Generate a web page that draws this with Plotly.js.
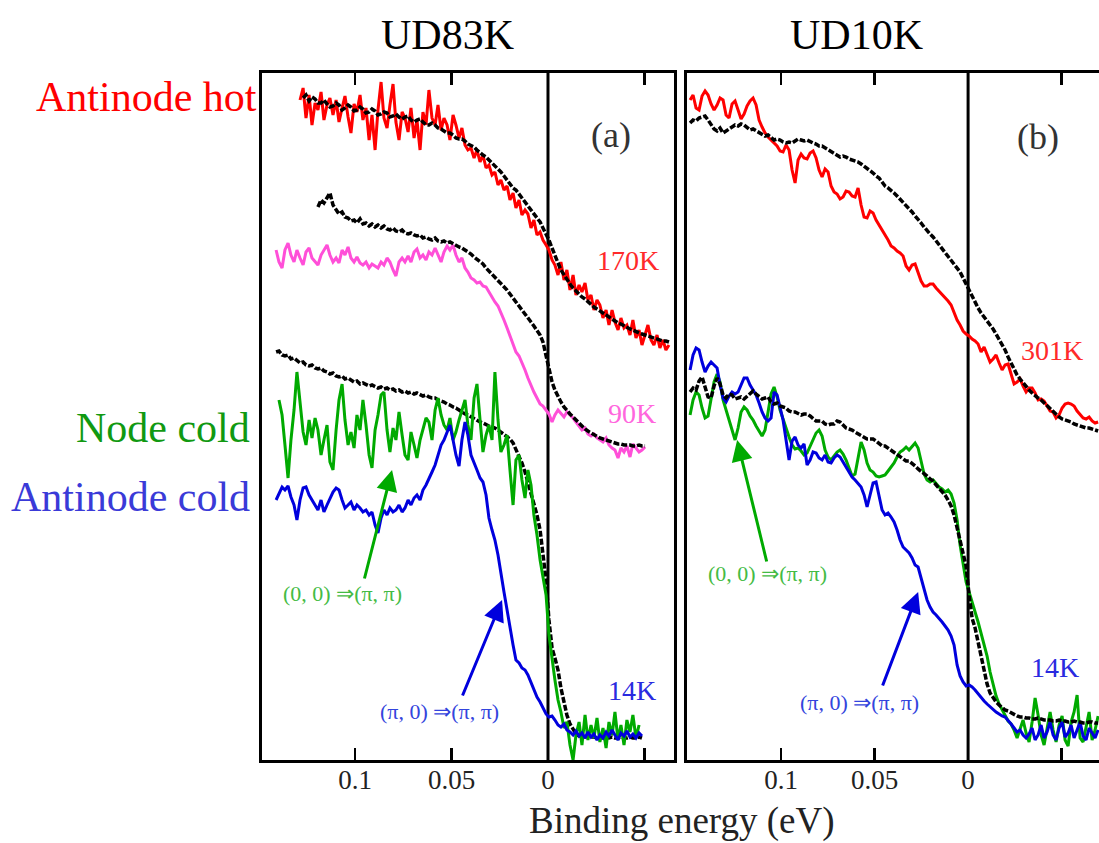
<!DOCTYPE html>
<html>
<head>
<meta charset="utf-8">
<script src="https://cdn.plot.ly/plotly-3.0.1.min.js"></script>
<style>html,body{margin:0;padding:0;background:#fff;}#chart{width:1099px;height:843px;}</style>
</head>
<body>
<div id="chart"></div>
<script>
// ---------- Panel (a): UD83K, binding energy grid (eV) ----------
const energyA = [0.1409,0.1394,0.1378,0.1363,0.1347,0.1332,0.1316,0.1301,0.1285,0.1269,
0.1254,0.1238,0.1223,0.1207,0.1192,0.1176,0.1161,0.1145,0.1130,0.1114,
0.1098,0.1083,0.1067,0.1052,0.1036,0.1021,0.1005,0.0990,0.0974,0.0959,
0.0943,0.0927,0.0912,0.0896,0.0881,0.0865,0.0850,0.0834,0.0819,0.0803,
0.0788,0.0772,0.0756,0.0741,0.0725,0.0710,0.0694,0.0679,0.0663,0.0648,
0.0632,0.0617,0.0601,0.0585,0.0570,0.0554,0.0539,0.0523,0.0508,0.0492,
0.0477,0.0461,0.0446,0.0430,0.0415,0.0399,0.0383,0.0368,0.0352,0.0337,
0.0321,0.0306,0.0290,0.0275,0.0259,0.0244,0.0228,0.0212,0.0197,0.0181,
0.0166,0.0150,0.0135,0.0119,0.0104,0.0088,0.0073,0.0057,0.0041,0.0026,
0.0010,-0.0005,-0.0021,-0.0036,-0.0052,-0.0067,-0.0083,-0.0098,-0.0114,-0.0130,
-0.0145,-0.0161,-0.0176,-0.0192,-0.0207,-0.0223,-0.0238,-0.0254,-0.0269,-0.0285,
-0.0301,-0.0316,-0.0332,-0.0347,-0.0363,-0.0378,-0.0394,-0.0409,-0.0425,-0.0440,
-0.0456,-0.0472,-0.0487,-0.0503,-0.0518,-0.0534,-0.0549,-0.0565,-0.0580,-0.0596,
-0.0611,-0.0627];

// Antinode hot, 170K (red)
const hot170A = [null,null,null,null,null,null,null,null,
660,672,642,665,635,657,650,668,640,655,
662,645,660,638,652,664,643,627,656,648,
665,640,652,620,645,610,650,678,642,632,
655,676,638,620,648,642,628,652,622,640,
610,648,635,670,642,635,655,630,642,635,
620,645,635,622,632,615,610,612,602,610,
598,605,592,595,585,588,575,580,570,574,
560,567,552,560,545,550,546,532,540,525,
528,520,515,510,500,495,485,498,480,490,
470,485,465,475,468,477,460,465,450,460,
455,442,450,435,450,438,430,442,432,435,
425,440,422,430,415,425,435,420,415,425,
412,420,410,415];

// 170K reference spectrum (black)
const ref170A = [null,null,null,null,null,null,null,null,null,
662,665,659,663,661,657,657,660,656,653,
654,657,655,650,652,655,653,649,650,653,
651,647,648,651,649,645,646,648,647,643,
644,646,643,641,643,644,640,638,640,641,
638,635,635,637,635,632,631,629,627,627,
625,622,621,621,619,616,614,613,610,607,
605,603,600,598,595,591,588,584,580,576,
572,570,566,562,558,554,550,546,542,538,
532,526,520,512,504,497,490,485,480,476,
472,469,466,463,461,458,456,453,451,449,
447,445,443,441,439,437,436,434,433,431,
430,428,427,426,425,424,423,422,421,420,
419,419,418];

// 90K (pink)
const warm90A = [510,498,492,510,517,505,498,510,502,495,
508,512,502,498,495,505,510,515,505,498,
502,497,510,505,513,502,498,503,497,495,
498,492,496,494,492,498,495,502,498,490,
484,498,502,498,504,498,508,511,502,505,
500,508,505,512,505,498,508,514,510,515,
505,498,502,492,488,482,480,477,478,474,
473,468,462,458,454,448,440,432,424,416,
408,404,398,390,382,374,368,362,356,354,
350,346,338,345,350,347,343,348,345,342,
338,334,330,332,326,324,326,322,320,318,
322,315,312,310,302,312,308,314,303,316,
312,308,310,313];

// 90K reference (black)
const ref90A = [null,null,null,null,null,null,null,null,null,null,null,null,null,null,
553,560,557,562,567,555,550,546,548,543,
542,539,540,537,541,536,537,534,536,533,
535,532,534,531,530,532,529,528,530,527,
526,527,525,524,525,522,523,521,520,522,
519,518,519,517,518,516,515,513,512,510,
508,506,503,501,498,496,492,489,486,483,
480,477,474,470,466,462,458,454,451,447,
442,438,434,430,425,418,405,390,378,370,
363,358,353,349,346,343,340,337,334,331,
329,327,325,323,322,321,320,319,318,317,
316,316,315,315,315,314,314,315,314,314];

// 14K reference (black)
const ref14A = [408,409,405,404,405,401,402,399,397,398,
395,394,395,392,391,392,389,388,386,387,
384,383,384,381,382,380,378,379,376,377,
375,374,375,373,372,373,371,372,370,371,
369,370,368,369,367,368,366,367,365,364,
365,363,362,362,360,359,358,356,355,353,
352,350,348,346,345,343,341,339,338,337,
335,334,333,332,330,328,326,324,321,317,
311,304,297,288,278,268,257,245,230,208,
180,140,112,102,90,72,57,45,36,30,
26,24,24,23,24,23,23,22,23,22,
23,22,23,22,22,23,22,22,23,22,
22,23,22];

// Node cold, 14K (green)
const nodeColdA = [null,
360,345,315,282,320,350,388,355,328,315,
340,322,342,330,305,320,335,298,290,330,
360,376,340,315,328,312,345,330,360,335,
305,292,330,345,365,368,330,308,332,320,
348,325,305,300,328,315,302,320,330,342,
338,320,350,362,345,335,330,342,320,328,
340,350,360,335,320,362,376,340,308,325,
335,320,388,340,308,315,325,290,255,300,
305,280,262,290,275,245,225,200,185,165,
125,100,80,60,48,32,38,15,0,25,
38,15,45,20,35,22,42,18,32,12,
38,25,48,20,35,15,40,28,45,22,
35];

// Antinode cold, 14K (blue)
const antiColdA = [260,267,273,270,274,263,255,240,260,272,
273,265,260,255,250,260,248,255,262,268,
272,270,260,252,255,258,250,255,252,248,
250,245,248,235,227,242,250,245,252,248,
250,255,248,252,260,255,262,265,260,270,
275,282,288,295,305,315,320,328,335,320,
305,294,320,338,325,305,298,290,282,278,
265,242,230,220,205,185,168,150,132,115,
100,97,92,90,85,78,70,63,58,52,
46,43,44,40,35,33,36,30,28,25,
29,24,27,22,28,23,26,20,25,22,
28,24,30,25,20,27,24,29,23,26,
22,27,24];

// ---------- Panel (b): UD10K ----------
const energyB = [0.14866,0.14706,0.14545,0.14385,0.14225,0.14064,0.13904,0.13743,0.13583,0.13422,
0.13262,0.13102,0.12941,0.12781,0.12620,0.12460,0.12299,0.12139,0.11979,0.11818,
0.11658,0.11497,0.11337,0.11176,0.11016,0.10856,0.10695,0.10535,0.10374,0.10214,
0.10053,0.09893,0.09733,0.09572,0.09412,0.09251,0.09091,0.08930,0.08770,0.08610,
0.08449,0.08289,0.08128,0.07968,0.07807,0.07647,0.07487,0.07326,0.07166,0.07005,
0.06845,0.06684,0.06524,0.06364,0.06203,0.06043,0.05882,0.05722,0.05561,0.05401,
0.05241,0.05080,0.04920,0.04759,0.04599,0.04439,0.04278,0.04118,0.03957,0.03797,
0.03636,0.03476,0.03316,0.03155,0.02995,0.02834,0.02674,0.02513,0.02353,0.02193,
0.02032,0.01872,0.01711,0.01551,0.01390,0.01230,0.01070,0.00909,0.00749,0.00588,
0.00428,0.00267,0.00107,-0.00053,-0.00214,-0.00374,-0.00535,-0.00695,-0.00856,-0.01016,
-0.01176,-0.01337,-0.01497,-0.01658,-0.01818,-0.01979,-0.02139,-0.02299,-0.02460,-0.02620,
-0.02781,-0.02941,-0.03102,-0.03262,-0.03422,-0.03583,-0.03743,-0.03904,-0.04064,-0.04225,
-0.04385,-0.04545,-0.04706,-0.04866,-0.05027,-0.05187,-0.05348,-0.05508,-0.05668,-0.05829,
-0.05989,-0.06150,-0.06310,-0.06471,-0.06631,-0.06791,-0.06952];

// Antinode hot, 301K (red)
const hot301B = [660,665,652,650,664,669,665,656,650,655,
662,660,645,642,656,659,650,641,646,654,
659,662,655,640,633,627,623,620,616,614,
609,608,615,610,590,577,600,606,602,601,
607,609,602,590,583,591,588,574,568,566,
561,563,569,568,564,563,572,555,543,542,
549,547,540,535,530,526,520,514,512,509,
507,504,494,490,495,496,487,479,474,474,
476,476,472,469,466,463,459,455,447,440,
435,429,426,424,421,419,416,408,413,406,
398,401,405,397,390,395,396,386,376,378,
381,374,368,372,372,367,360,361,359,354,
349,348,342,345,352,356,357,356,354,349,
345,342,341,343,339,337,338];

// 301K reference (black)
const ref301B = [637,640,639,642,643,644,640,635,631,629,
632,627,629,632,634,635,634,636,635,632,
630,631,629,627,625,624,625,622,620,621,
620,618,617,618,617,619,621,620,619,620,
618,617,616,614,614,612,610,609,606,604,
603,604,603,601,600,599,598,596,594,592,
589,587,584,582,578,574,572,570,567,564,
561,558,555,552,548,544,541,537,533,529,
526,523,519,516,512,508,504,500,496,492,
488,482,476,470,463,457,452,447,443,440,
436,431,426,421,416,410,403,397,391,385,
381,377,373,370,367,364,362,360,357,354,
351,348,345,343,341,340,339,338,336,335,
334,333,332,332,331,330,329];

// 14K reference (black)
const ref14B = [368,372,370,379,383,372,363,362,374,382,
376,365,362,366,365,361,362,363,361,364,
367,369,366,364,361,362,363,358,356,357,
354,353,352,349,348,348,346,345,346,346,
344,341,339,339,339,336,335,336,336,339,
338,335,332,331,330,328,326,324,322,321,
321,321,319,317,314,314,312,309,307,306,
303,301,299,299,297,294,291,289,287,284,
281,279,275,272,269,265,260,254,245,233,
220,208,194,165,142,132,118,102,90,76,
67,62,58,55,52,50,49,47,45,44,
43,43,42,42,41,41,42,41,40,40,
40,39,39,40,39,39,38,38,39,38,
38,37,37,38,38,37,37];

// Node cold, 14K (green)
const nodeColdB = [345,360,368,365,352,342,344,360,378,386,
378,360,350,338,328,320,332,348,353,350,
344,340,334,329,324,330,350,366,373,363,
350,342,332,323,315,311,312,309,305,307,
314,320,327,330,324,310,303,300,304,308,
310,306,300,292,284,286,302,318,310,297,
290,288,284,283,284,285,289,293,297,303,
308,310,313,310,313,317,312,298,286,280,
278,280,276,273,271,268,270,266,257,240,
215,195,178,168,157,148,138,127,117,104,
88,75,64,56,50,45,39,36,30,22,
32,40,27,18,38,62,45,25,15,32,
48,30,18,35,44,20,14,38,48,65,
22,18,35,48,20,30,44];

// Antinode cold, 14K (blue)
const antiColdB = [390,405,412,410,398,388,394,398,395,392,
375,362,358,364,368,366,368,375,382,382,
375,370,365,357,348,342,339,342,368,365,
352,340,320,300,319,323,315,312,316,295,
300,308,307,302,300,305,298,297,302,305,
303,298,292,288,283,280,276,273,265,253,
265,277,278,265,250,245,247,243,238,230,
220,213,210,207,202,195,193,182,170,160,
153,148,145,142,138,134,130,124,115,95,
84,78,74,75,73,70,66,62,59,56,
53,50,48,46,44,43,40,36,32,28,
30,25,22,26,32,20,25,35,22,28,
38,25,20,32,38,23,27,35,22,30,
38,24,20,32,27,22,30];

// tick marks and labels
const majorTicks = [0.15, 0.1, 0.05, 0, -0.05];
const majorLabels = ['', '0.1', '0.05', '0', ''];
const minorTicks = [0.14, 0.13, 0.12, 0.11, 0.09, 0.08, 0.07, 0.06, 0.04, 0.03, 0.02, 0.01,
                    -0.01, -0.02, -0.03, -0.04, -0.06];

// ---------- styles ----------
const SERIF = 'Liberation Serif, Times New Roman, serif';
const RED = '#ff0000', PINK = '#ff4fd8', GREEN = '#00aa00', BLUE = '#0000dd', BLACK = '#000000';

function line(x, y, color, xa, ya, width, dash) {
  return {x: x, y: y, xaxis: xa, yaxis: ya, type: 'scatter', mode: 'lines',
          connectgaps: false, hoverinfo: 'skip',
          line: {color: color, width: width, dash: dash || 'solid'}};
}
const DASH = '6px,2px';

const data = [
  line(energyA, ref14A, BLACK, 'x', 'y', 3.5, DASH),
  line(energyA, hot170A, RED, 'x', 'y', 3),
  line(energyA, warm90A, PINK, 'x', 'y', 3),
  line(energyA, nodeColdA, GREEN, 'x', 'y', 3),
  line(energyA, antiColdA, BLUE, 'x', 'y', 3),
  line(energyA, ref170A, BLACK, 'x', 'y', 3.5, DASH),
  line(energyA, ref90A, BLACK, 'x', 'y', 3.5, DASH),
  line(energyB, hot301B, RED, 'x2', 'y2', 3),
  line(energyB, nodeColdB, GREEN, 'x2', 'y2', 3),
  line(energyB, antiColdB, BLUE, 'x2', 'y2', 3),
  line(energyB, ref301B, BLACK, 'x2', 'y2', 3.5, DASH),
  line(energyB, ref14B, BLACK, 'x2', 'y2', 3.5, DASH)
];

const W = 1099, H = 843;
const yDom = [1 - 760 / H, 1 - 73 / H];
const domA = [262 / W, 674 / W], domB = [687 / W, 1];
const rangeA = [0.1482, -0.0653], rangeB = [0.1503, -0.0700];

function xAxis(domain, range, anchor) {
  return {
    domain: domain, range: range, anchor: anchor,
    showline: true, linecolor: '#000', linewidth: 3, mirror: 'allticks',
    tickmode: 'array', tickvals: majorTicks, ticktext: majorLabels,
    ticks: 'inside', ticklen: 12, tickwidth: 2.5, tickcolor: '#000',
    tickfont: {family: SERIF, size: 27, color: '#222'},
    ticklabelstandoff: -6,
    showgrid: false, zeroline: false, fixedrange: true
  };
}
function minorAxis(overlay, domain, range, anchor) {
  return {
    overlaying: overlay, domain: domain, range: range, anchor: anchor, side: 'bottom',
    showline: false, mirror: 'allticks',
    tickmode: 'array', tickvals: minorTicks, showticklabels: false,
    ticks: 'inside', ticklen: 6, tickwidth: 2, tickcolor: '#000',
    showgrid: false, zeroline: false, fixedrange: true
  };
}
function yAxis(anchor, mirror) {
  return {
    domain: yDom, range: [0, 687], anchor: anchor,
    showline: true, linecolor: '#000', linewidth: 3, mirror: mirror,
    ticks: '', showticklabels: false, showgrid: false, zeroline: false, fixedrange: true
  };
}

function txt(text, x, y, xref, yref, size, color, xanchor, yanchor) {
  return {text: text, x: x, y: y, xref: xref, yref: yref, showarrow: false,
          xanchor: xanchor || 'center', yanchor: yanchor || 'middle', borderpad: 0,
          font: {family: SERIF, size: size, color: color}};
}
function arrow(xh, yh, xt, yt, xref, yref, color) {
  return {text: '', x: xh, y: yh, ax: xt, ay: yt, xref: xref, yref: yref,
          axref: xref, ayref: yref, showarrow: true, arrowhead: 2, arrowsize: 1.4,
          arrowwidth: 3, arrowcolor: color};
}

const annotations = [
  txt('UD83K', 447 / W, 1 - 35 / H, 'paper', 'paper', 42, '#000'),
  txt('UD10K', 856 / W, 1 - 35 / H, 'paper', 'paper', 42, '#000'),
  txt('Binding energy (eV)', 682 / W, 0, 'paper', 'paper', 37, '#222', 'center', 'bottom'),
  txt('Antinode hot', 258 / W, 1 - 97 / H, 'paper', 'paper', 42, '#ff0000', 'right'),
  txt('Node cold', 251 / W, 1 - 428 / H, 'paper', 'paper', 42, '#119911', 'right'),
  txt('Antinode cold', 251 / W, 1 - 497 / H, 'paper', 'paper', 42, '#3a3ad8', 'right'),
  txt('(a)', -0.0326, 625, 'x', 'y', 36, '#333'),
  txt('170K', -0.0415, 500, 'x', 'y', 28, '#ff2a2a'),
  txt('90K', -0.0435, 347, 'x', 'y', 28, '#ff66dd'),
  txt('14K', -0.0435, 70, 'x', 'y', 28, '#2a2ae0'),
  txt('(0, 0) ⇒(π, π)', 0.1067, 167, 'x', 'y', 22, '#44bb44'),
  txt('(π, 0) ⇒(π, π)', 0.0560, 49, 'x', 'y', 22, '#3344dd'),
  arrow(0.0808, 290, 0.0953, 180, 'x', 'y', GREEN),
  arrow(0.0238, 160, 0.0446, 63, 'x', 'y', BLUE),
  txt('(b)', -0.0374, 623, 'x2', 'y2', 36, '#333'),
  txt('301K', -0.0449, 410, 'x2', 'y2', 28, '#ff2a2a'),
  txt('14K', -0.0465, 93, 'x2', 'y2', 28, '#2a2ae0'),
  txt('(0, 0) ⇒(π, π)', 0.1070, 187, 'x2', 'y2', 22, '#44bb44'),
  txt('(π, 0) ⇒(π, π)', 0.0578, 58, 'x2', 'y2', 22, '#3344dd'),
  arrow(0.1235, 320, 0.1075, 197, 'x2', 'y2', GREEN),
  arrow(0.0267, 168, 0.0460, 73, 'x2', 'y2', BLUE)
];

const shapes = [
  {type: 'line', xref: 'x', yref: 'y domain', x0: 0, x1: 0, y0: 0, y1: 1, layer: 'below',
   line: {color: '#000', width: 3}},
  {type: 'line', xref: 'x2', yref: 'y2 domain', x0: 0, x1: 0, y0: 0, y1: 1, layer: 'below',
   line: {color: '#000', width: 3}}
];

const layout = {
  width: W, height: H,
  margin: {l: 0, r: 0, t: 0, b: 0, pad: 0},
  paper_bgcolor: '#fff', plot_bgcolor: 'rgba(0,0,0,0)',
  showlegend: false,
  xaxis: xAxis(domA, rangeA, 'y'),
  yaxis: yAxis('x', true),
  xaxis2: xAxis(domB, rangeB, 'y2'),
  yaxis2: yAxis('x2', false),
  xaxis3: minorAxis('x', domA, rangeA, 'y'),
  xaxis4: minorAxis('x2', domB, rangeB, 'y2'),
  annotations: annotations,
  shapes: shapes
};

Plotly.newPlot('chart', data, layout, {displayModeBar: false, staticPlot: true});
</script>
</body>
</html>
